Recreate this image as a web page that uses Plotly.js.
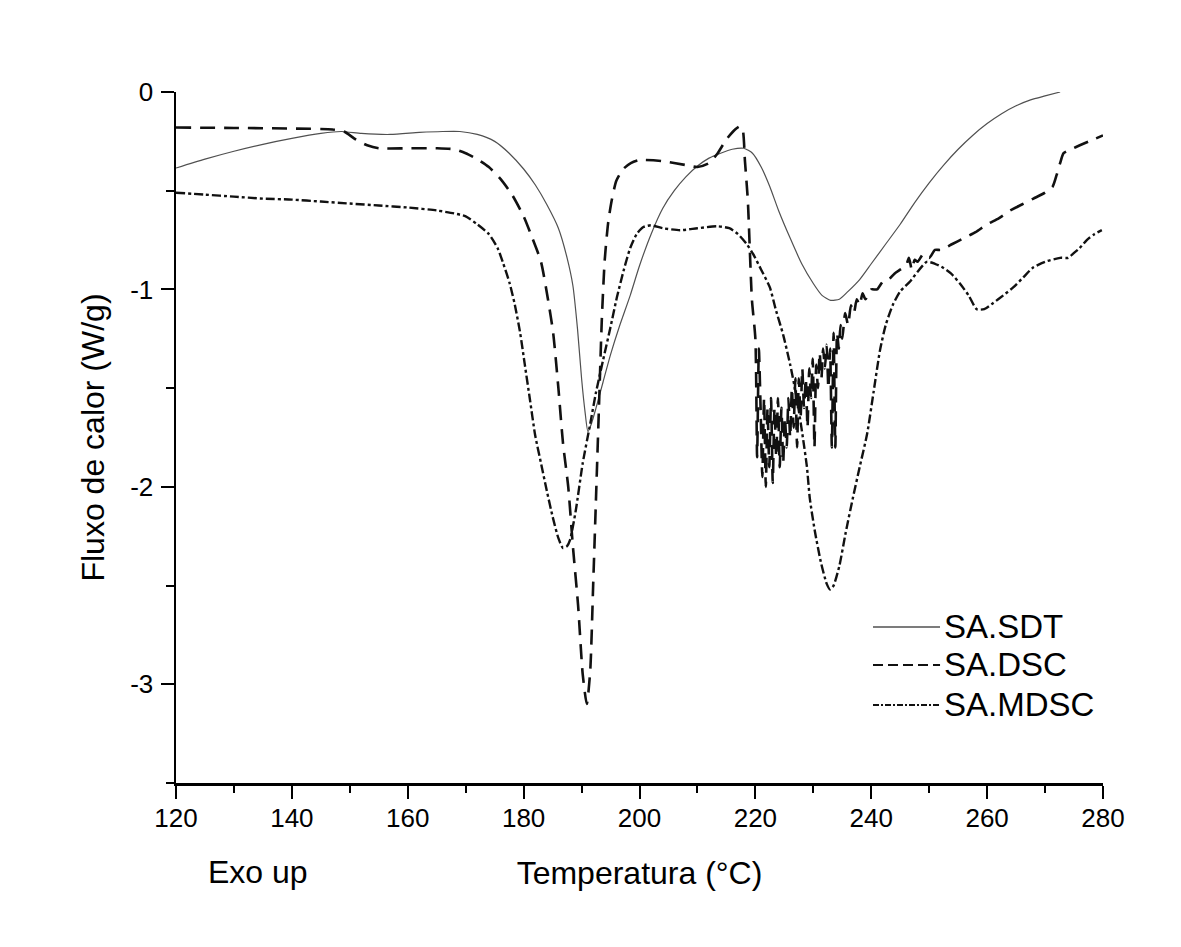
<!DOCTYPE html>
<html>
<head>
<meta charset="utf-8">
<script src="https://cdn.plot.ly/plotly-3.0.1.min.js"></script>
<style>
  html, body { margin: 0; padding: 0; background: #ffffff; }
  #chart { width: 1181px; height: 947px; }
</style>
</head>
<body>
<div id="chart"></div>
<script>
// ---------- data ----------
const seriesNames = ["SA.SDT", "SA.DSC", "SA.MDSC"];

const sdtTemp = [120,125,130,135,140,145,148.5,152,157,162,166,169,172,175,177.5,180,182,184,186,187.5,188.5,189.3,190,190.6,191.1,191.7,192.5,193.7,195,196.5,198.4,200,202,204,206,208,210,212,214,216,218,219.5,221,222.5,224,226,228,230,231.5,233,234.5,236,238,240,242.5,245,247.5,250,252.5,255,257.5,260,262.5,265,267.5,270,272.6];
const sdtFlow = [-0.385,-0.34,-0.30,-0.265,-0.235,-0.21,-0.20,-0.21,-0.215,-0.205,-0.20,-0.20,-0.215,-0.25,-0.31,-0.39,-0.47,-0.57,-0.69,-0.84,-0.98,-1.2,-1.45,-1.62,-1.72,-1.68,-1.6,-1.47,-1.33,-1.19,-1.03,-0.88,-0.72,-0.59,-0.5,-0.43,-0.375,-0.335,-0.31,-0.29,-0.285,-0.31,-0.38,-0.48,-0.6,-0.74,-0.87,-0.97,-1.03,-1.055,-1.05,-1.01,-0.95,-0.87,-0.77,-0.67,-0.56,-0.46,-0.37,-0.29,-0.22,-0.16,-0.11,-0.07,-0.04,-0.02,0];

const dscTemp = [120,130,140,147,149,151,153,155,160,165,168,170,172,174,176,178,180,181.5,183,184.2,185.1,186,186.8,187.7,188.5,189.4,190.2,190.9,191.5,192,192.5,193,193.5,194,194.6,195.2,196,197.2,198.5,200,204,208,210,212,213.5,215,216.5,217.3,217.8,218.2,218.7,219.4,
  220,220.3,220.6,220.9,221.2,221.5,221.8,222.1,222.4,222.7,223,223.3,223.6,223.9,224.2,224.5,224.8,225.1,225.4,225.7,226,226.3,226.6,226.9,227.2,227.5,227.8,228.1,228.4,228.7,229,229.3,229.6,229.9,230.2,230.5,230.8,231.1,231.4,231.7,232,232.3,232.6,232.9,233.2,233.5,233.8,234.1,234.4,234.7,235,235.5,236,236.5,237,237.5,238,238.5,239,240,241,242,243,244,245,246,246.5,247,247.5,248,249,250,251,252,254,256,258,260,262,264,266,268,270,271.3,272,272.6,273.2,274.5,276,278,280];
const dscFlow = [-0.18,-0.182,-0.185,-0.19,-0.2,-0.24,-0.27,-0.285,-0.285,-0.285,-0.29,-0.31,-0.34,-0.38,-0.44,-0.52,-0.63,-0.74,-0.86,-1.05,-1.22,-1.5,-1.78,-2.0,-2.3,-2.6,-2.95,-3.1,-2.93,-2.5,-2.05,-1.6,-1.15,-0.85,-0.66,-0.55,-0.45,-0.39,-0.36,-0.345,-0.35,-0.37,-0.38,-0.36,-0.31,-0.24,-0.19,-0.175,-0.19,-0.35,-0.55,-1.05,
  -1.25,-1.85,-1.3,-1.6,-1.95,-1.55,-2.0,-1.6,-1.9,-1.55,-1.98,-1.6,-1.85,-1.55,-1.9,-1.6,-1.88,-1.65,-1.8,-1.55,-1.75,-1.5,-1.7,-1.45,-1.8,-1.45,-1.65,-1.4,-1.6,-1.45,-1.7,-1.4,-1.55,-1.35,-1.8,-1.38,-1.5,-1.32,-1.45,-1.3,-1.4,-1.28,-1.5,-1.3,-1.8,-1.22,-1.8,-1.22,-1.3,-1.18,-1.25,-1.12,-1.18,-1.08,-1.12,-1.05,-1.08,-1.02,-1.05,-1.0,-1.0,-0.96,-0.95,-0.92,-0.9,-0.88,-0.84,-0.9,-0.85,-0.86,-0.82,-0.84,-0.8,-0.8,-0.77,-0.74,-0.71,-0.67,-0.64,-0.6,-0.57,-0.54,-0.51,-0.48,-0.42,-0.36,-0.31,-0.29,-0.27,-0.245,-0.22];

const mdscTemp = [120,125,130,135,140,145,150,155,160,165,168,170,172,174,175.5,176.5,177.6,178.5,179.4,180.2,181.1,182,183,184,185,186,186.8,187.5,188,189,190.2,191.5,192.5,193.7,195,196.1,197.3,198.4,199.5,200.6,202,204,207,210,213.4,215.5,217,218.5,219.6,221,222.5,223.5,224.8,226,227.2,228.2,228.9,229.4,230.3,231.3,232.3,232.9,233.5,234.5,235.6,236.8,238,239.3,240.4,241.5,242.5,243.7,245,246.7,248,249.6,251,252.4,253.8,255.3,256.8,258.2,259.5,261,262.8,264.5,266.2,267.9,270,272.6,274,274.8,276,277.2,278.5,279.8];
const mdscFlow = [-0.51,-0.52,-0.53,-0.54,-0.545,-0.555,-0.565,-0.575,-0.585,-0.6,-0.615,-0.63,-0.67,-0.72,-0.79,-0.87,-0.97,-1.08,-1.22,-1.38,-1.56,-1.74,-1.88,-2.02,-2.15,-2.26,-2.31,-2.3,-2.27,-2.12,-1.88,-1.68,-1.52,-1.36,-1.19,-1.04,-0.9,-0.79,-0.72,-0.685,-0.675,-0.69,-0.70,-0.69,-0.68,-0.69,-0.72,-0.77,-0.82,-0.9,-0.99,-1.1,-1.23,-1.38,-1.56,-1.75,-1.9,-2.06,-2.23,-2.38,-2.49,-2.52,-2.5,-2.4,-2.23,-2.06,-1.9,-1.73,-1.52,-1.31,-1.18,-1.08,-1.01,-0.96,-0.91,-0.86,-0.87,-0.89,-0.92,-0.97,-1.03,-1.1,-1.1,-1.07,-1.03,-0.99,-0.94,-0.89,-0.86,-0.84,-0.84,-0.82,-0.79,-0.75,-0.72,-0.70];

const xTickVals = [120,140,160,180,200,220,240,260,280];
const xTickText = ["120","140","160","180","200","220","240","260","280"];
const yTickVals = [0,-1,-2,-3];
const yTickText = ["0","-1","-2","-3"];

const xTitle = "Temperatura (°C)";
const yTitle = "Fluxo de calor (W/g)";
const noteText = "Exo up";

// ---------- styles ----------
const FONT = "'Liberation Sans', Arial, sans-serif";
const styles = [
  {color: "#505050", width: 1.2, dash: "solid"},
  {color: "#111111", width: 2.6, dash: "15px,9px"},
  {color: "#111111", width: 2.4, dash: "9px,3px,3px,3px"}
];
const legendStyles = [
  {color: "#505050", width: 1.4, dash: "solid"},
  {color: "#111111", width: 2.2, dash: "10px,5px"},
  {color: "#111111", width: 2.0, dash: "6px,2px,2px,2px"}
];

const xs = [sdtTemp, dscTemp, mdscTemp];
const ys = [sdtFlow, dscFlow, mdscFlow];

const traces = seriesNames.map((name, i) => ({
  type: "scatter",
  mode: "lines",
  name: name,
  x: xs[i],
  y: ys[i],
  line: {color: styles[i].color, width: styles[i].width, dash: styles[i].dash, shape: "spline", smoothing: 0.6},
  showlegend: false,
  hoverinfo: "skip"
}));

// manual legend (long sample lines like the reference)
const legX0 = 0.7519, legX1 = 0.8242, legTextX = 0.8263;
const legY = [0.2258, 0.1708, 0.1129];
const shapes = seriesNames.map((n, i) => ({
  type: "line", xref: "paper", yref: "paper",
  x0: legX0, x1: legX1, y0: legY[i], y1: legY[i],
  line: {color: legendStyles[i].color, width: legendStyles[i].width, dash: legendStyles[i].dash}
}));
const annotations = seriesNames.map((n, i) => ({
  xref: "paper", yref: "paper", x: legTextX, y: legY[i],
  xanchor: "left", yanchor: "middle", showarrow: false,
  text: n, font: {family: FONT, size: 33, color: "#000"}
}));
annotations.push({
  xref: "paper", yref: "paper", x: 0.0885, y: -0.1288,
  xanchor: "center", yanchor: "middle", showarrow: false,
  text: noteText, font: {family: FONT, size: 32, color: "#000"}
});

const layout = {
  width: 1181, height: 947,
  margin: {l: 176, r: 78, t: 92, b: 164, pad: 0},
  paper_bgcolor: "#ffffff", plot_bgcolor: "#ffffff",
  font: {family: FONT, color: "#000"},
  showlegend: false,
  xaxis: {
    range: [120, 280], tickmode: "array", tickvals: xTickVals, ticktext: xTickText,
    ticks: "outside", ticklen: 13, tickwidth: 2, tickcolor: "#000",
    showline: true, linecolor: "#000", linewidth: 2.5,
    showgrid: false, zeroline: false,
    tickfont: {family: FONT, size: 26, color: "#000"},
    ticklabelstandoff: -3,
    minor: {ticks: "outside", ticklen: 7, tickwidth: 2, tickcolor: "#000", dtick: 10, tick0: 120, showgrid: false},
    title: {text: xTitle, font: {family: FONT, size: 32, color: "#000"}, standoff: 30},
    automargin: false
  },
  yaxis: {
    range: [-3.5, 0], tickmode: "array", tickvals: yTickVals, ticktext: yTickText,
    ticks: "outside", ticklen: 13, tickwidth: 2, tickcolor: "#000",
    showline: true, linecolor: "#000", linewidth: 2.5,
    showgrid: false, zeroline: false,
    tickfont: {family: FONT, size: 26, color: "#000"},
    ticklabelstandoff: 2,
    minor: {ticks: "outside", ticklen: 8, tickwidth: 2, tickcolor: "#000", dtick: 0.5, tick0: 0, showgrid: false},
    title: {text: yTitle, font: {family: FONT, size: 32, color: "#000"}, standoff: 16},
    automargin: false
  },
  shapes: shapes,
  annotations: annotations
};

Plotly.newPlot("chart", traces, layout, {displayModeBar: false, staticPlot: true});
</script>
</body>
</html>
